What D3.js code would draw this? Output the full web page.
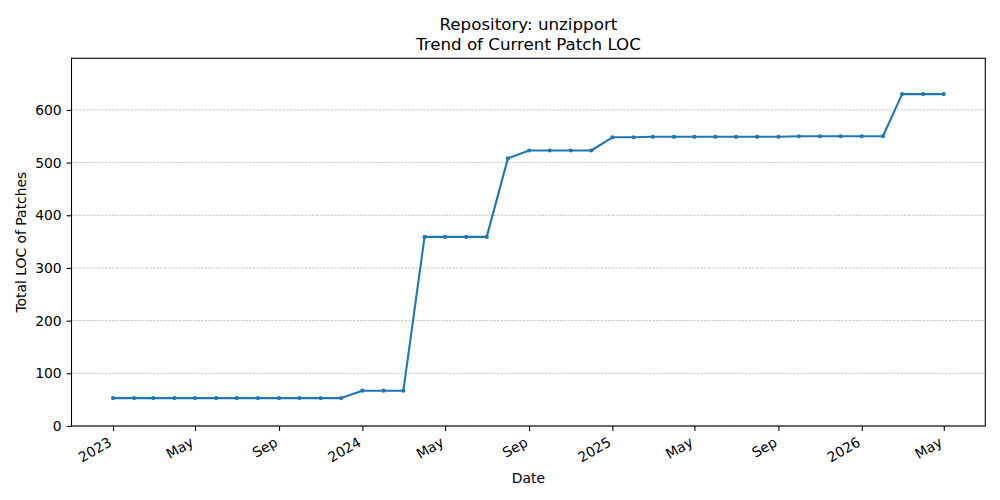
<!DOCTYPE html>
<html>
<head>
<meta charset="utf-8">
<script src="https://cdn.jsdelivr.net/npm/d3@7"></script>
<style>
  body { margin: 0; background: #fff; }
  text { font-family: "DejaVu Sans", sans-serif; fill: #000; }
</style>
</head>
<body>
<script>
// Monthly snapshots, Jan 2023 .. May 2026
const months = [
    "2023-01", "2023-02", "2023-03", "2023-04", "2023-05", "2023-06",
    "2023-07", "2023-08", "2023-09", "2023-10", "2023-11", "2023-12",
    "2024-01", "2024-02", "2024-03", "2024-04", "2024-05", "2024-06",
    "2024-07", "2024-08", "2024-09", "2024-10", "2024-11", "2024-12",
    "2025-01", "2025-02", "2025-03", "2025-04", "2025-05", "2025-06",
    "2025-07", "2025-08", "2025-09", "2025-10", "2025-11", "2025-12",
    "2026-01", "2026-02", "2026-03", "2026-04", "2026-05"
];
const loc = [
    53, 53, 53, 53, 53, 53, 53, 53, 53, 53, 53, 53,
    67, 67, 67, 359, 359, 359, 359, 508, 523, 523, 523, 523,
    548, 548, 549, 549, 549, 549, 549, 549, 549, 550, 550, 550,
    550, 550, 630, 630, 630
];
const yTicks = [0, 100, 200, 300, 400, 500, 600];
const yMax = 698;

const titleLines = ["Repository: unzipport", "Trend of Current Patch LOC"];
const xLabel = "Date";
const yLabel = "Total LOC of Patches";

const width = 1000, height = 500;
const margin = { top: 58.3, right: 14.7, bottom: 74, left: 71.5 };
const innerW = width - margin.left - margin.right;
const innerH = height - margin.top - margin.bottom;

const parse = d3.timeParse("%Y-%m");
const data = months.map((m, i) => ({ date: parse(m), value: loc[i] }));

const svg = d3.select("body")
    .append("svg")
    .attr("width", width)
    .attr("height", height);

// 5% padding on each side of the date range, like matplotlib
const ext = d3.extent(data, d => d.date);
const pad = (ext[1] - ext[0]) * 0.05;
const x = d3.scaleTime()
    .domain([new Date(+ext[0] - pad), new Date(+ext[1] + pad)])
    .range([0, innerW]);
const y = d3.scaleLinear()
    .domain([0, yMax])
    .range([innerH, 0]);

const g = svg.append("g")
    .attr("transform", `translate(${margin.left},${margin.top})`);

// horizontal grid
g.append("g")
    .selectAll("line")
    .data(yTicks)
    .enter().append("line")
    .attr("x1", 0)
    .attr("x2", innerW)
    .attr("y1", d => y(d))
    .attr("y2", d => y(d))
    .attr("stroke", "#b0b0b0")
    .attr("stroke-width", 0.7)
    .attr("stroke-dasharray", "2.6,1.1");

// axes
const fmt = d => d.getMonth() === 0 ? d3.timeFormat("%Y")(d) : d3.timeFormat("%b")(d);
const xAxis = g.append("g")
    .attr("transform", `translate(0,${innerH})`)
    .call(d3.axisBottom(x).ticks(d3.timeMonth.every(4)).tickFormat(fmt)
        .tickSizeOuter(0).tickSize(4.9).tickPadding(4.9));
xAxis.select(".domain").remove();
xAxis.selectAll("line").attr("stroke", "#000").attr("stroke-width", 1.1);
xAxis.selectAll("text")
    .style("font-size", "13.9px")
    .attr("text-anchor", "end")
    .attr("dy", null)
    .attr("y", null)
    .attr("dominant-baseline", "hanging")
    .attr("transform", "translate(-6,10) rotate(-30)");

const yAxis = g.append("g")
    .call(d3.axisLeft(y).tickValues(yTicks)
        .tickSizeOuter(0).tickSize(4.9).tickPadding(4.9));
yAxis.select(".domain").remove();
yAxis.selectAll("line").attr("stroke", "#000").attr("stroke-width", 1.1);
yAxis.selectAll("text").style("font-size", "13.9px");

// frame
g.append("rect")
    .attr("width", innerW)
    .attr("height", innerH)
    .attr("fill", "none")
    .attr("stroke", "#000")
    .attr("stroke-width", 1.1);

// series
const line = d3.line()
    .x(d => x(d.date))
    .y(d => y(d.value));

g.append("path")
    .datum(data)
    .attr("fill", "none")
    .attr("stroke", "#1f77b4")
    .attr("stroke-width", 2.1)
    .attr("stroke-linejoin", "round")
    .attr("d", line);

g.selectAll(".dot")
    .data(data)
    .enter().append("circle")
    .attr("class", "dot")
    .attr("cx", d => x(d.date))
    .attr("cy", d => y(d.value))
    .attr("r", 2.1)
    .attr("fill", "#1f77b4");

// title
svg.append("g").selectAll("text")
    .data(titleLines)
    .enter().append("text")
    .attr("x", margin.left + innerW / 2)
    .attr("y", (d, i) => 29.5 + i * 20.5)
    .attr("text-anchor", "middle")
    .style("font-size", "16.7px")
    .text(d => d);

// axis labels
svg.append("text")
    .attr("x", margin.left + innerW / 2)
    .attr("y", 483)
    .attr("text-anchor", "middle")
    .style("font-size", "13.9px")
    .text(xLabel);

svg.append("text")
    .attr("transform", `translate(26,${margin.top + innerH / 2}) rotate(-90)`)
    .attr("text-anchor", "middle")
    .style("font-size", "13.9px")
    .text(yLabel);
</script>
</body>
</html>
